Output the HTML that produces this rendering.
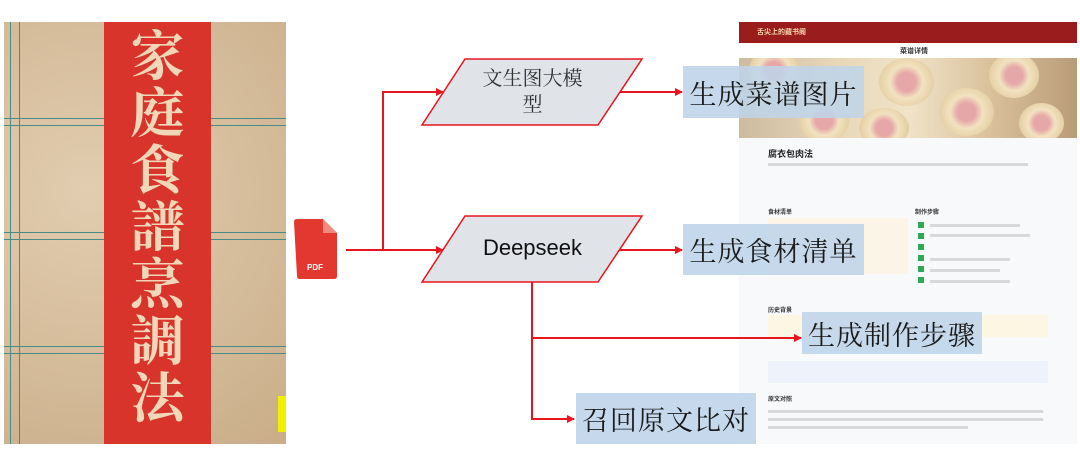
<!DOCTYPE html>
<html><head><meta charset="utf-8"><style>
body{margin:0;width:1080px;height:473px;background:#fff;position:relative;overflow:hidden;font-family:"Liberation Sans","Noto Sans CJK SC",sans-serif}
.a{position:absolute}
.box{position:absolute;background:rgba(190,212,233,0.88);font-family:"Noto Serif CJK SC",serif;font-size:27px;color:#1a1a1a;display:flex;align-items:center;justify-content:center;letter-spacing:1px}
.book{left:4px;top:22px;width:282px;height:422px;background:#d8c0a0;background-image:radial-gradient(circle at 30% 40%,#e2cdb0,#c9ad88)}
.band{left:104px;top:22px;width:107px;height:422px;background:#d9342c}
.bt{left:104px;width:107px;text-align:center;color:#efd7b8;font-size:54px;font-weight:bold;font-family:"Noto Serif CJK SC",serif;line-height:57px}
.hl{position:absolute;height:6px;border-top:1px solid #4a8a86;border-bottom:1px solid #4a8a86}
.tx{position:absolute;height:3px;background:#d8d8d8}
.dm{position:absolute;border-radius:50%;background:radial-gradient(circle,#e6a7a8 25%,#f2e2c0 45%,#e2cca0 80%)}
</style></head><body>
<div class="a book"></div>
<div class="a" style="left:10px;top:22px;width:8px;height:422px;border-left:1px solid #4a8a86;border-right:1px solid #4a8a86"></div>
<div class="hl" style="left:4px;top:118px;width:100px"></div>
<div class="hl" style="left:211px;top:118px;width:75px"></div>
<div class="hl" style="left:4px;top:232px;width:100px"></div>
<div class="hl" style="left:211px;top:232px;width:75px"></div>
<div class="hl" style="left:4px;top:346px;width:100px"></div>
<div class="hl" style="left:211px;top:346px;width:75px"></div>
<div class="a band"></div>
<div class="a bt" style="top:24px">家<br>庭<br>食<br>譜<br>烹<br>調<br>法</div>
<div class="a" style="left:278px;top:396px;width:8px;height:36px;background:#f0f000"></div>

<!-- screenshot -->
<div class="a" style="left:739px;top:22px;width:338px;height:422px;background:#f7f9fb"></div>
<div class="a" style="left:739px;top:22px;width:338px;height:21px;background:#9b1c1c"></div>
<div class="a" style="left:757px;top:27px;font-size:7px;color:#f3d9b0;font-weight:bold">舌尖上的藏书阁</div>
<div class="a" style="left:739px;top:43px;width:338px;height:15px;background:#fff"></div>
<div class="a" style="left:900px;top:46px;font-size:7px;font-weight:bold;color:#333">菜谱详情</div>
<div class="a" style="left:739px;top:58px;width:338px;height:80px;background:linear-gradient(90deg,#cdbba0,#e8d8b8 30%,#f0e3c8 50%,#d9c09a 75%,#b89c78);overflow:hidden">
<div class="dm" style="left:10px;top:-10px;width:50px;height:45px"></div>
<div class="dm" style="left:60px;top:40px;width:50px;height:45px"></div>
<div class="dm" style="left:140px;top:0px;width:55px;height:48px"></div>
<div class="dm" style="left:200px;top:30px;width:55px;height:48px"></div>
<div class="dm" style="left:250px;top:-5px;width:50px;height:45px"></div>
<div class="dm" style="left:120px;top:50px;width:50px;height:40px"></div>
<div class="dm" style="left:280px;top:45px;width:45px;height:40px"></div>
</div>
<div class="a" style="left:768px;top:147px;font-size:9px;font-weight:bold;color:#222">腐衣包肉法</div>
<div class="tx" style="left:768px;top:163px;width:260px"></div>
<div class="a" style="left:768px;top:207px;font-size:6px;font-weight:bold;color:#333">食材清单</div>
<div class="a" style="left:915px;top:207px;font-size:6px;font-weight:bold;color:#333">制作步骤</div>
<div class="a" style="left:768px;top:218px;width:140px;height:56px;background:#fdf4e8"></div>
<div class="a" style="left:918px;top:222px;width:6px;height:65px;background:repeating-linear-gradient(#2eaa55 0 6px,transparent 6px 11px)"></div>
<div class="tx" style="left:930px;top:224px;width:90px"></div>
<div class="tx" style="left:930px;top:234px;width:100px"></div>
<div class="tx" style="left:930px;top:258px;width:80px"></div>
<div class="tx" style="left:930px;top:269px;width:70px"></div>
<div class="tx" style="left:930px;top:280px;width:80px"></div>
<div class="a" style="left:768px;top:305px;font-size:6px;font-weight:bold;color:#333">历史背景</div>
<div class="a" style="left:768px;top:315px;width:280px;height:22px;background:#fdf6e3"></div>
<div class="a" style="left:768px;top:361px;width:280px;height:22px;background:#eef3fb"></div>
<div class="a" style="left:768px;top:394px;font-size:6px;font-weight:bold;color:#333">原文对照</div>
<div class="tx" style="left:768px;top:410px;width:275px"></div>
<div class="tx" style="left:768px;top:418px;width:275px"></div>
<div class="tx" style="left:768px;top:426px;width:200px"></div>

<svg class="a" style="left:0;top:0" width="1080" height="473">
<defs><marker id="ar" markerWidth="8" markerHeight="8" refX="7" refY="4" orient="auto" markerUnits="userSpaceOnUse"><path d="M0,0 L8,4 L0,8 z" fill="#e8141e"/></marker></defs>
<g stroke="#e8141e" stroke-width="2" fill="none">
<path d="M346,250 H443" marker-end="url(#ar)"/>
<path d="M383,250 V92 H443" marker-end="url(#ar)"/>
<path d="M620,92 H682" marker-end="url(#ar)"/>
<path d="M620,250 H682" marker-end="url(#ar)"/>
<path d="M532,282 V419 H574" marker-end="url(#ar)"/>
<path d="M532,338 H801" marker-end="url(#ar)"/>
</g>
<polygon points="465,59 642,59 598,125 422,125" fill="#e0e3e8" stroke="#e8141e" stroke-width="1.5"/>
<polygon points="465,216 642,216 598,282 422,282" fill="#e0e3e8" stroke="#e8141e" stroke-width="1.5"/>
<path d="M294,222 q0,-3 3,-3 h26 l14,14 v43 q0,3 -3,3 h-34 q-3,0 -3,-3z" fill="#e2382f"/>
<path d="M323,219 l14,14 h-14z" fill="#f08a7f"/>
<text x="315" y="270" font-size="8" font-weight="bold" fill="#fff" text-anchor="middle" font-family="Liberation Sans">PDF</text>
</svg>
<div class="a" style="left:450px;top:64px;width:165px;text-align:center;font-family:'Noto Serif CJK SC',serif;font-size:20px;line-height:26px;color:#333">文生图大模<br>型</div>
<div class="a" style="left:450px;top:235px;width:165px;text-align:center;font-size:22px;color:#111">Deepseek</div>
<div class="box" style="left:683px;top:66px;width:181px;height:52px">生成菜谱图片</div>
<div class="box" style="left:683px;top:224px;width:181px;height:51px">生成食材清单</div>
<div class="box" style="left:802px;top:312px;width:180px;height:42px">生成制作步骤</div>
<div class="box" style="left:576px;top:393px;width:180px;height:51px">召回原文比对</div>
</body></html>
